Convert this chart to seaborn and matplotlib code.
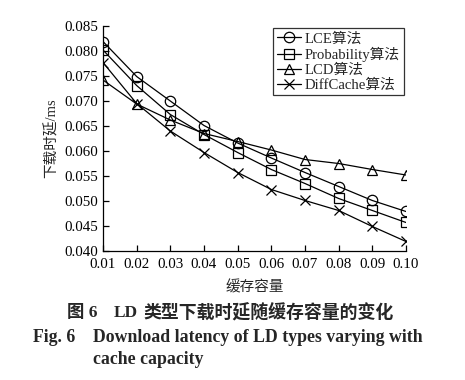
import matplotlib
matplotlib.use("Agg")
import matplotlib.pyplot as plt
import seaborn as sns
import pandas as pd

capacity = [0.01, 0.02, 0.03, 0.04, 0.05, 0.06, 0.07, 0.08, 0.09, 0.10]
lce = [0.0819, 0.0749, 0.0700, 0.0651, 0.0616, 0.0586, 0.0557, 0.0529, 0.0501, 0.0479]
prob = [0.0802, 0.0731, 0.0673, 0.0633, 0.0597, 0.0563, 0.0535, 0.0505, 0.0481, 0.0457]
lcd = [0.0742, 0.0694, 0.0662, 0.0635, 0.0619, 0.0602, 0.0583, 0.0575, 0.0563, 0.0552]
diff = [0.0777, 0.0695, 0.0640, 0.0597, 0.0557, 0.0523, 0.0501, 0.0481, 0.0449, 0.0419]
series_names = ["LCE算法", "Probability算法", "LCD算法", "DiffCache算法"]
yticks = [0.040, 0.045, 0.050, 0.055, 0.060, 0.065, 0.070, 0.075, 0.080, 0.085]

sns.set_style("ticks")
FAM = ["Liberation Serif", "Noto Sans CJK SC"]
plt.rcParams["font.family"] = FAM
plt.rcParams["axes.unicode_minus"] = False

rows = []
for name, vals in zip(series_names, [lce, prob, lcd, diff]):
    for c, v in zip(capacity, vals):
        rows.append({"cap": c, "lat": v, "alg": name})
df = pd.DataFrame(rows)

fig = plt.figure(figsize=(4.65, 3.8), dpi=100)
ax = fig.add_axes([0.2215, 0.3395, 0.6516, 0.592])

markers = ["o", "s", "^", "x"]
for name, m in zip(series_names, markers):
    sub = df[df["alg"] == name]
    sns.lineplot(data=sub, x="cap", y="lat", ax=ax, color="black", lw=0.9,
                 marker=m, markersize=7.5 if m != "x" else 7, mfc="none", mec="black",
                 mew=0.9, label=name)

ax.set_xlim(0.01, 0.10)
ax.set_ylim(0.040, 0.085)
ax.set_xticks(capacity)
ax.set_xticklabels([f"{c:.2f}" for c in capacity])
ax.set_yticks(yticks)
ax.set_yticklabels([f"{t:.3f}" for t in yticks])
ax.tick_params(direction="in", length=4, width=0.9, labelsize=10.8, colors="black")
ax.tick_params(axis="x", pad=5)
for s in ["top", "right"]:
    ax.spines[s].set_visible(False)
for s in ["left", "bottom"]:
    ax.spines[s].set_linewidth(0.9)
    ax.spines[s].set_color("black")

ax.set_xlabel("缓存容量", fontsize=10.5, family=FAM, labelpad=7)
ax.set_ylabel("下载时延/ms", fontsize=10.5, family=FAM, labelpad=4)

leg = ax.legend(loc="upper right", fontsize=10.6, frameon=True, fancybox=False,
                edgecolor="black", handlelength=1.6, handletextpad=0.3,
                labelspacing=0.1, borderpad=0.25, borderaxespad=0.15)
leg.get_frame().set_linewidth(0.9)
leg.get_frame().set_facecolor("white")

fig.text(67 / 465, 0.176, "图 6", ha="left", va="center",
         fontsize=12.5, fontweight="bold", family=FAM)
fig.text(114 / 465, 0.176, "LD", ha="left", va="center",
         fontsize=12.5, fontweight="bold", family=FAM)
fig.text(143 / 465, 0.176, "类型下载时延随缓存容量的变化", ha="left", va="center",
         fontsize=12.9, fontweight="bold", family=FAM)
fig.text(33 / 465, 0.113, "Fig. 6", ha="left",
         va="center", fontsize=12.8, fontweight="bold", family=FAM)
fig.text(93 / 465, 0.113, "Download latency of LD types varying with", ha="left",
         va="center", fontsize=12.8, fontweight="bold", family=FAM)
fig.text(93 / 465, 0.053, "cache capacity", ha="left", va="center",
         fontsize=12.8, fontweight="bold", family=FAM)

fig.savefig("out.png", dpi=100, facecolor="white")
